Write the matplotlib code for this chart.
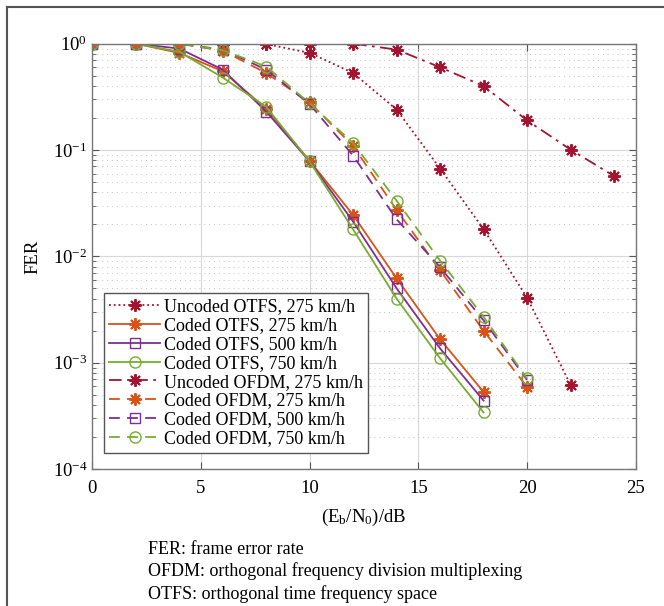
import numpy as np
import matplotlib
import matplotlib.pyplot as plt
from matplotlib.lines import Line2D
from matplotlib.ticker import LogLocator, NullFormatter
matplotlib.use('Agg')

plt.rcParams['font.family'] = ['Liberation Serif', 'DejaVu Serif']
plt.rcParams['mathtext.fontset'] = 'custom'
plt.rcParams['mathtext.rm'] = 'Liberation Serif'
plt.rcParams['mathtext.it'] = 'Liberation Serif:italic'

# Eb/N0 points (dB)
snr_otfs_coded = [0, 2, 4, 6, 8, 10, 12, 14, 16, 18]
snr_ofdm_coded = [0, 2, 4, 6, 8, 10, 12, 14, 16, 18, 20]
snr_otfs_uncoded = [0, 2, 4, 6, 8, 10, 12, 14, 16, 18, 20, 22]
snr_ofdm_uncoded = [0, 2, 4, 6, 8, 10, 12, 14, 16, 18, 20, 22, 24]

# FER values
fer_uncoded_otfs = [1.0, 1.0, 1.0, 1.0, 0.99, 0.82, 0.53, 0.24, 0.067, 0.018, 0.0041, 0.00062]
fer_otfs_275 = [1.0, 1.0, 0.82, 0.55, 0.245, 0.079, 0.0245, 0.0062, 0.00166, 0.00053]
fer_otfs_500 = [1.0, 1.0, 0.90, 0.57, 0.23, 0.078, 0.0212, 0.0050, 0.00136, 0.00044]
fer_otfs_750 = [1.0, 1.0, 0.84, 0.48, 0.255, 0.078, 0.0179, 0.0040, 0.0011, 0.00034]
fer_uncoded_ofdm = [1.0, 1.0, 1.0, 1.0, 1.0, 1.0, 1.0, 0.88, 0.60, 0.40, 0.19, 0.101, 0.057]
fer_ofdm_275 = [1.0, 1.0, 1.0, 0.86, 0.53, 0.28, 0.109, 0.0273, 0.0074, 0.0020, 0.00059]
fer_ofdm_500 = [1.0, 1.0, 1.0, 0.88, 0.57, 0.27, 0.0885, 0.0223, 0.0079, 0.0025, 0.00069]
fer_ofdm_750 = [1.0, 1.0, 1.0, 0.87, 0.61, 0.275, 0.116, 0.0334, 0.0091, 0.0027, 0.00071]

labels = ['Uncoded OTFS, 275 km/h', 'Coded OTFS, 275 km/h', 'Coded OTFS, 500 km/h',
          'Coded OTFS, 750 km/h', 'Uncoded OFDM, 275 km/h', 'Coded OFDM, 275 km/h',
          'Coded OFDM, 500 km/h', 'Coded OFDM, 750 km/h']

red = '#A2142F'
orange = '#D95319'
purple = '#7E2F8E'
green = '#77AC30'

fig = plt.figure(figsize=(6.64, 6.06), dpi=100)
ax = fig.add_axes([0.139, 0.2261, 0.8184, 0.7018])

lw = 1.3
star = (8, 2, 0)  # eight-armed asterisk like matlab's '*'
dash = (0, (6, 4))
ax.plot(snr_otfs_uncoded, fer_uncoded_otfs, linestyle=':', color=red, marker=star,
        markersize=9, mew=1.4, lw=lw, label=labels[0])
ax.plot(snr_otfs_coded, fer_otfs_275, linestyle='-', color=orange, marker=star,
        markersize=9, mew=1.4, lw=lw, label=labels[1])
ax.plot(snr_otfs_coded, fer_otfs_500, linestyle='-', color=purple, marker='s',
        markersize=7, mfc='none', lw=lw, label=labels[2])
ax.plot(snr_otfs_coded, fer_otfs_750, linestyle='-', color=green, marker='o',
        markersize=8, mfc='none', lw=lw, label=labels[3])
ax.plot(snr_ofdm_uncoded, fer_uncoded_ofdm, linestyle=(0, (7, 3, 1.5, 3)), color=red,
        marker=star, markersize=9, mew=1.4, lw=lw, label=labels[4])
ax.plot(snr_ofdm_coded, fer_ofdm_275, linestyle=dash, color=orange, marker=star,
        markersize=9, mew=1.4, lw=lw, label=labels[5])
ax.plot(snr_ofdm_coded, fer_ofdm_500, linestyle=dash, color=purple, marker='s',
        markersize=7, mfc='none', lw=lw, label=labels[6])
ax.plot(snr_ofdm_coded, fer_ofdm_750, linestyle=dash, color=green, marker='o',
        markersize=8, mfc='none', lw=lw, label=labels[7])

ax.set_yscale('log')
ax.set_xlim(0, 25)
ax.set_ylim(1e-4, 1)
ax.set_xticks([0, 5, 10, 15, 20, 25])
ax.yaxis.set_major_locator(LogLocator(base=10, numticks=10))
ax.yaxis.set_minor_locator(LogLocator(base=10, subs=np.arange(2, 10), numticks=20))
ax.yaxis.set_minor_formatter(NullFormatter())

ax.grid(True, which='major', color='#d8d8d8', lw=0.8, ls='-')
ax.grid(True, which='minor', axis='y', color='#c4c4c4', lw=0.7, ls=(0, (1, 4)))
ax.set_axisbelow(True)

ax.tick_params(which='both', direction='in', top=True, right=True,
               labelsize=13.5, color='#555555')
ax.tick_params(axis='x', which='major', pad=8)
ax.tick_params(which='major', length=5)
ax.tick_params(which='minor', length=3)
for s in ax.spines.values():
    s.set_color('#777777')
    s.set_linewidth(1.0)

ax.set_xlabel(r'(E$_\mathrm{b}$/N$_0$)/dB', fontsize=13.5, labelpad=7)
ax.set_ylabel('FER', fontsize=13.5, labelpad=8)

leg = ax.legend(loc='lower left', bbox_to_anchor=(0.015, 0.03), fontsize=13,
                handlelength=2.8, handletextpad=0.2, labelspacing=0.1,
                borderpad=0.3, borderaxespad=0.2, fancybox=False, framealpha=1,
                edgecolor='#555555')
leg.get_frame().set_linewidth(1.0)

notes = ['FER: frame error rate',
         'OFDM: orthogonal frequency division multiplexing',
         'OTFS: orthogonal time frequency space']
for i, t in enumerate(notes):
    fig.text(148 / 664, 1 - (549 + 22.5 * i) / 606, t, fontsize=13, va='center', ha='left')

# page frame lines
fig.add_artist(Line2D([7 / 664, 7 / 664], [0, 1 - 7 / 606], color='#555555', lw=1.5))
fig.add_artist(Line2D([7 / 664, 1], [1 - 7 / 606, 1 - 7 / 606], color='#555555', lw=1.5))

plt.savefig('out.png', dpi=100)
plt.close()
